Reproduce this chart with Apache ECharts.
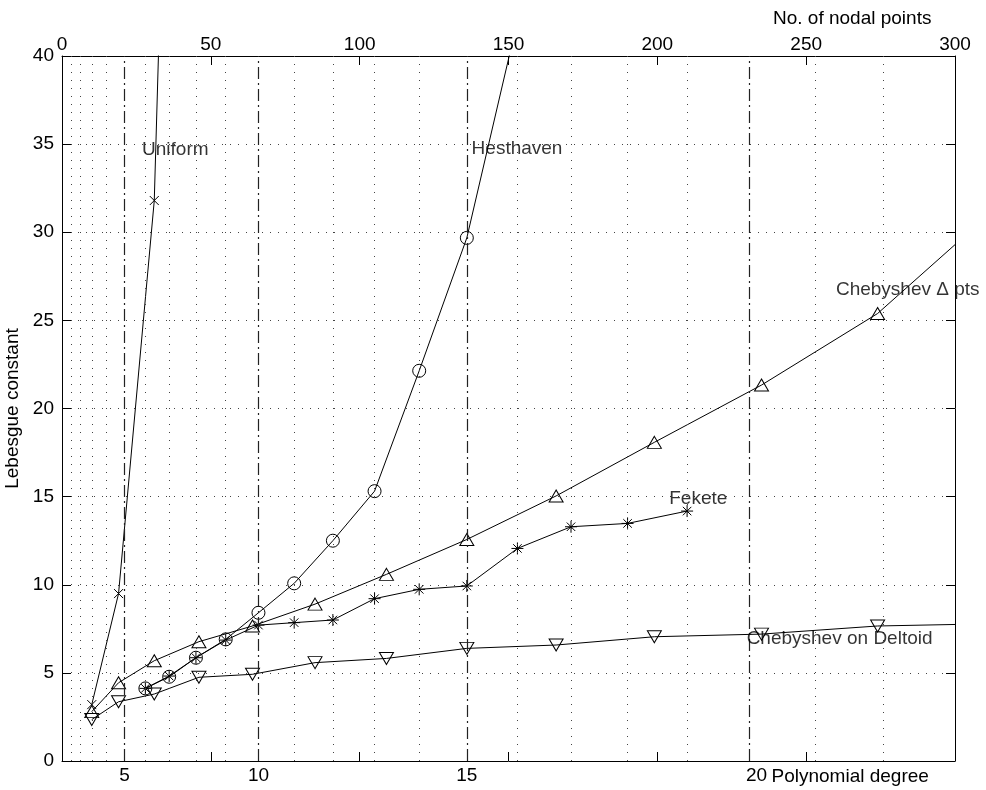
<!DOCTYPE html>
<html><head><meta charset="utf-8">
<script src="https://cdn.jsdelivr.net/npm/echarts@6/dist/echarts.min.js"></script>
<style>html,body{margin:0;padding:0;background:#fff}#c{width:986px;height:790px}</style>
</head><body><div id="c"></div>
<script>
// ---------- data ----------
const nodalTicks = [0, 50, 100, 150, 200, 250, 300];
const lebesgueTicks = [0, 5, 10, 15, 20, 25, 30, 35, 40];
const degreeLabels = [5, 10, 15, 20];
const degreeNodal = [21, 66, 136, 231];
const gridNodal = [3, 6, 10, 15, 28, 36, 45, 55, 78, 91, 105, 120, 153, 171, 190, 210, 253, 276];

const uniformN = [10, 19, 31, 46];
const uniformL = [3.2, 9.5, 31.8, 120];

const hesthavenN = [28, 36, 45, 55, 66, 78, 91, 105, 120, 136, 153];
const hesthavenL = [4.12, 4.78, 5.86, 6.9, 8.41, 10.08, 12.5, 15.31, 22.14, 29.68, 42];

const chebDeltaN = [10, 19, 31, 46, 64, 85, 109, 136, 166, 199, 235, 274, 316];
const chebDeltaL = [2.8, 4.44, 5.69, 6.77, 7.66, 8.9, 10.59, 12.57, 15.04, 18.08, 21.33, 25.39, 31.7];

const feketeN = [28, 36, 45, 55, 66, 78, 91, 105, 120, 136, 153, 171, 190, 210];
const feketeL = [4.12, 4.82, 5.86, 6.86, 7.71, 7.85, 8.0, 9.21, 9.74, 9.93, 12.06, 13.29, 13.48, 14.18];

const deltoidN = [10, 19, 31, 46, 64, 85, 109, 136, 166, 199, 235, 274, 316];
const deltoidL = [2.35, 3.36, 3.8, 4.75, 4.92, 5.58, 5.82, 6.39, 6.58, 7.05, 7.2, 7.66, 7.8];

const annotationText = ['Uniform', 'Hesthaven', 'Chebyshev \u0394 pts', 'Fekete', 'Chebyshev on Deltoid'];
const annotationN = [26.9, 137.6, 260, 204, 230];
const annotationL = [34.66, 34.75, 26.75, 14.9, 6.96];

// ---------- chart ----------
const FONT = '"Liberation Sans", Arial, Helvetica, sans-serif';
const FS = 19;
const pair = (xs, ys) => xs.map((x, i) => [x, ys[i]]);
const chart = echarts.init(document.getElementById('c'), null, {renderer: 'canvas'});

const lineBase = {
  type: 'line', xAxisIndex: 0, yAxisIndex: 0, clip: true, z: 3,
  lineStyle: {color: '#000', width: 1},
  itemStyle: {color: 'rgba(0,0,0,0)', borderColor: '#000', borderWidth: 1},
  emphasis: {disabled: true}, silent: true
};
const STAR = 'path://M0,6L12,6M6,0L6,12M1.76,1.76L10.24,10.24M10.24,1.76L1.76,10.24';
const XMARK = 'path://M0,0L10,10M10,0L0,10';
const lastDegree = degreeLabels[degreeLabels.length - 1];

chart.setOption({
  animation: false,
  backgroundColor: '#fff',
  textStyle: {fontFamily: FONT},
  grid: {left: 62, top: 56, right: 31, bottom: 29, containLabel: false, outerBoundsMode: 'none'},
  xAxis: [
    {
      type: 'value', position: 'bottom', min: 0, max: 300,
      axisLine: {show: true, onZero: false, lineStyle: {color: '#000', width: 1}},
      axisTick: {show: true, inside: true, length: 9, customValues: nodalTicks, lineStyle: {color: '#000'}},
      axisLabel: {show: true, customValues: degreeNodal, margin: 5, color: '#000', fontSize: FS, fontFamily: FONT,
        formatter: v => {
          const d = degreeLabels[degreeNodal.indexOf(v)];
          return d === lastDegree ? '{s|' + d + '}' : String(d);
        },
        rich: {s: {color: '#000', fontSize: FS, fontFamily: FONT, padding: [0, 0, 0, 14]}}
      },
      splitLine: {show: false}
    },
    {
      type: 'value', position: 'top', min: 0, max: 300, interval: 50,
      axisLine: {show: true, onZero: false, lineStyle: {color: '#000', width: 1}},
      axisTick: {show: true, inside: true, length: 9, lineStyle: {color: '#000'}},
      axisLabel: {show: true, margin: 2, color: '#000', fontSize: FS, fontFamily: FONT, showMinLabel: true, showMaxLabel: true},
      splitLine: {show: false}
    }
  ],
  yAxis: [
    {
      type: 'value', position: 'left', min: 0, max: 40, interval: 5,
      name: 'Lebesgue constant', nameLocation: 'middle', nameGap: 36, nameRotate: 90,
      nameTextStyle: {color: '#000', fontSize: FS, fontFamily: FONT},
      axisLine: {show: true, onZero: false, lineStyle: {color: '#000', width: 1}},
      axisTick: {show: true, inside: true, length: 9, lineStyle: {color: '#000'}},
      axisLabel: {show: true, margin: 8, color: '#000', fontSize: FS, fontFamily: FONT},
      splitLine: {show: true, lineStyle: {color: '#444', width: 1, type: [1, 7]}}
    },
    {
      type: 'value', position: 'right', min: 0, max: 40, interval: 5,
      axisLine: {show: true, onZero: false, lineStyle: {color: '#000', width: 1}},
      axisTick: {show: true, inside: true, length: 9, lineStyle: {color: '#000'}},
      axisLabel: {show: false},
      splitLine: {show: false}
    }
  ],
  graphic: [
    {type: 'text', x: 773, y: 18.5, silent: true,
      style: {text: 'No. of nodal points', fontSize: FS, fontFamily: FONT, fill: '#000', align: 'left', verticalAlign: 'middle'}},
    {type: 'text', x: 771.5, y: 776.5, silent: true,
      style: {text: 'Polynomial degree', fontSize: FS, fontFamily: FONT, fill: '#000', align: 'left', verticalAlign: 'middle'}}
  ],
  series: [
    {
      type: 'line', name: 'gridDotted', data: [], z: 1, silent: true,
      markLine: {
        silent: true, symbol: ['none', 'none'], animation: false,
        label: {show: false}, emphasis: {disabled: true},
        lineStyle: {color: '#444', width: 1, type: [1, 7]},
        data: gridNodal.map(v => ({xAxis: v}))
      }
    },
    {
      type: 'line', name: 'gridDegree', data: [], z: 1, silent: true,
      markLine: {
        silent: true, symbol: ['none', 'none'], animation: false,
        label: {show: false}, emphasis: {disabled: true},
        lineStyle: {color: '#222', width: 1.2, type: [12, 4, 2, 4]},
        data: degreeNodal.map(v => ({xAxis: v}))
      }
    },
    Object.assign({}, lineBase, {name: 'Uniform', data: pair(uniformN, uniformL), symbol: XMARK, symbolSize: 9}),
    Object.assign({}, lineBase, {name: 'Hesthaven', data: pair(hesthavenN, hesthavenL), symbol: 'circle', symbolSize: 13}),
    Object.assign({}, lineBase, {name: 'Chebyshev Delta', data: pair(chebDeltaN, chebDeltaL), symbol: 'triangle', symbolSize: [14, 12]}),
    Object.assign({}, lineBase, {name: 'Fekete', data: pair(feketeN, feketeL), symbol: STAR, symbolSize: 12}),
    Object.assign({}, lineBase, {name: 'Deltoid', data: pair(deltoidN, deltoidL), symbol: 'triangle', symbolRotate: 180, symbolSize: [14, 12]}),
    {
      type: 'scatter', name: 'labels', z: 5, silent: true,
      data: annotationText.map((t, i) => ({value: [annotationN[i], annotationL[i]], name: t})),
      symbolSize: 0,
      itemStyle: {color: 'rgba(0,0,0,0)'},
      label: {show: true, position: 'right', distance: 0, formatter: p => p.name,
        color: '#000', fontSize: FS, fontFamily: FONT, align: 'left', verticalAlign: 'middle'}
    }
  ]
});
</script></body></html>
